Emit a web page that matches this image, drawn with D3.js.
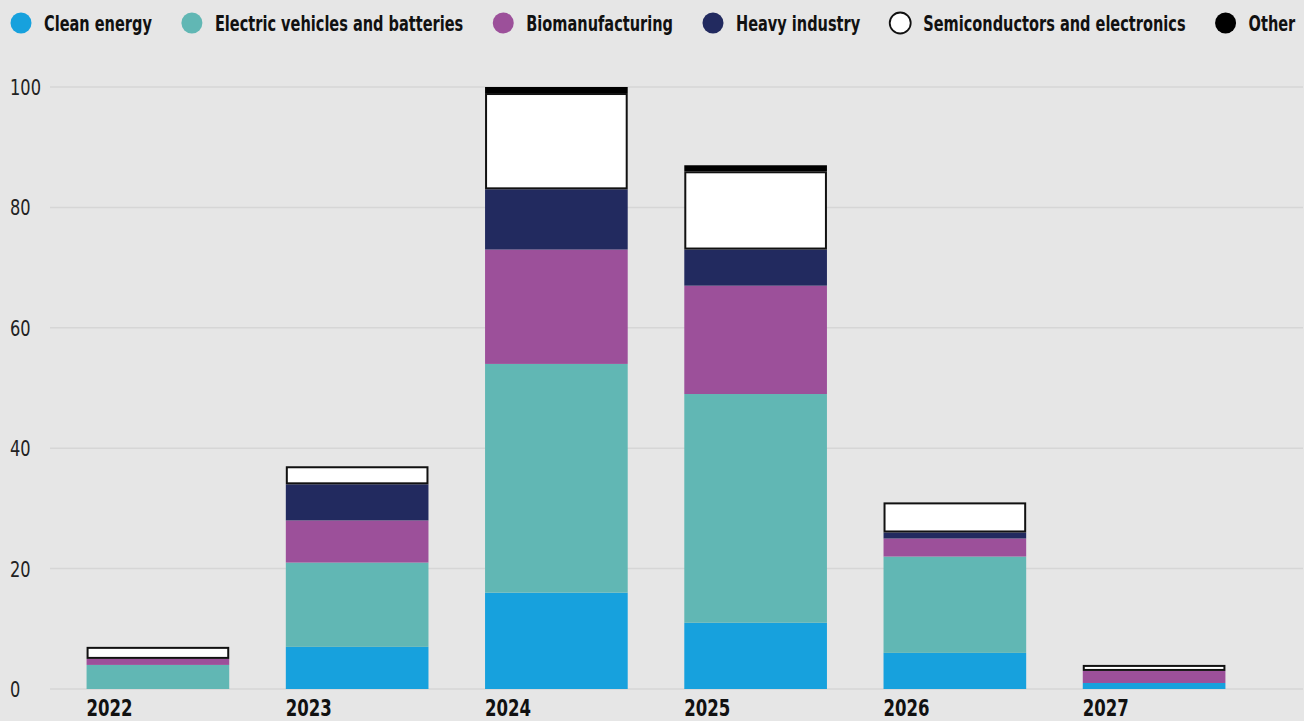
<!DOCTYPE html>
<html>
<head>
<meta charset="utf-8">
<script src="https://cdn.jsdelivr.net/npm/d3@7"></script>
<style>
  html, body { margin: 0; padding: 0; background: #e6e6e6; }
  svg { display: block; }
  .cond { font-family: "DejaVu Sans Condensed", "DejaVu Sans", sans-serif; }
</style>
</head>
<body>
<svg id="chart" width="1304" height="721"></svg>
<script>
// Investment by sector and year (stacked)
const years = ["2022", "2023", "2024", "2025", "2026", "2027"];
const sectors = ["Clean energy", "Electric vehicles and batteries", "Biomanufacturing",
                 "Heavy industry", "Semiconductors and electronics", "Other"];
const cleanEnergy   = [0, 7, 16, 11, 6, 1];
const electricVeh   = [4, 14, 38, 38, 16, 0];
const biomanufact   = [1, 7, 19, 18, 3, 2];
const heavyIndustry = [0, 6, 10, 6, 1, 0];
const semiconductor = [2, 3, 16, 13, 5, 1];
const otherSector   = [0, 0, 1, 1, 0, 0];
const yTicks = [0, 20, 40, 60, 80, 100];

const colors = ["#17a1dd", "#61b7b4", "#9c509a", "#222a5f", "#ffffff", "#000000"];

const seriesValues = [cleanEnergy, electricVeh, biomanufact, heavyIndustry, semiconductor, otherSector];
const rows = years.map((yr, i) => {
  const r = { year: yr };
  sectors.forEach((s, k) => { r[s] = seriesValues[k][i]; });
  return r;
});
const stacked = d3.stack().keys(sectors)(rows);

const svg = d3.select("#chart");

const x = d3.scaleBand().domain(years).range([30, 1282]).paddingInner(0.284).paddingOuter(0.284);
const y = d3.scaleLinear().domain([0, 100]).range([689, 87]);
const color = d3.scaleOrdinal().domain(sectors).range(colors);

// narrow type: condensed face squeezed horizontally
const SQUEEZE = 0.77;
const place = (px, py, sx) => `translate(${px},${py}) scale(${sx},1)`;

// gridlines
svg.append("g").selectAll("line").data(yTicks).join("line")
  .attr("x1", 50).attr("x2", 1303)
  .attr("y1", d => y(d)).attr("y2", d => y(d))
  .attr("stroke", "#d6d6d6").attr("stroke-width", 1.5);

// y tick labels
svg.append("g").attr("class", "cond").selectAll("text").data(yTicks).join("text")
  .attr("transform", d => place(10, y(d), 0.82)).attr("dy", "0.36em")
  .attr("font-size", 22).attr("fill", "#222")
  .text(d => d);

// stacked bars
const layers = svg.append("g").selectAll("g").data(stacked).join("g")
  .attr("fill", d => color(d.key));
layers.each(function(layer) {
  const outlined = layer.key === "Semiconductors and electronics";
  d3.select(this).selectAll("rect")
    .data(layer.filter(d => d[1] - d[0] > 0))
    .join("rect")
    .attr("x", d => x(d.data.year) + (outlined ? 1 : 0))
    .attr("width", x.bandwidth() - (outlined ? 2 : 0))
    .attr("y", d => y(d[1]) + (outlined ? 1 : 0))
    .attr("height", d => y(d[0]) - y(d[1]) - (outlined ? 2 : 0))
    .attr("stroke", outlined ? "#111" : "none")
    .attr("stroke-width", outlined ? 2 : 0);
});

// x labels
svg.append("g").attr("class", "cond").selectAll("text").data(years).join("text")
  .attr("transform", d => place(x(d), 716, 0.8))
  .attr("font-size", 23).attr("font-weight", "bold").attr("fill", "#111")
  .text(d => d);

// legend
const legend = svg.append("g").attr("class", "cond");
let cx = 21;
sectors.forEach((s, i) => {
  legend.append("circle").attr("cx", cx).attr("cy", 23).attr("r", 10.5)
    .attr("fill", colors[i])
    .attr("stroke", s === "Semiconductors and electronics" ? "#111" : "none")
    .attr("stroke-width", 1.8);
  const t = legend.append("text").attr("transform", place(cx + 23, 31, SQUEEZE))
    .attr("font-size", 21).attr("font-weight", "bold").attr("fill", "#111")
    .text(s);
  cx = cx + 23 + t.node().getComputedTextLength() * SQUEEZE + 40;
});
</script>
</body>
</html>
